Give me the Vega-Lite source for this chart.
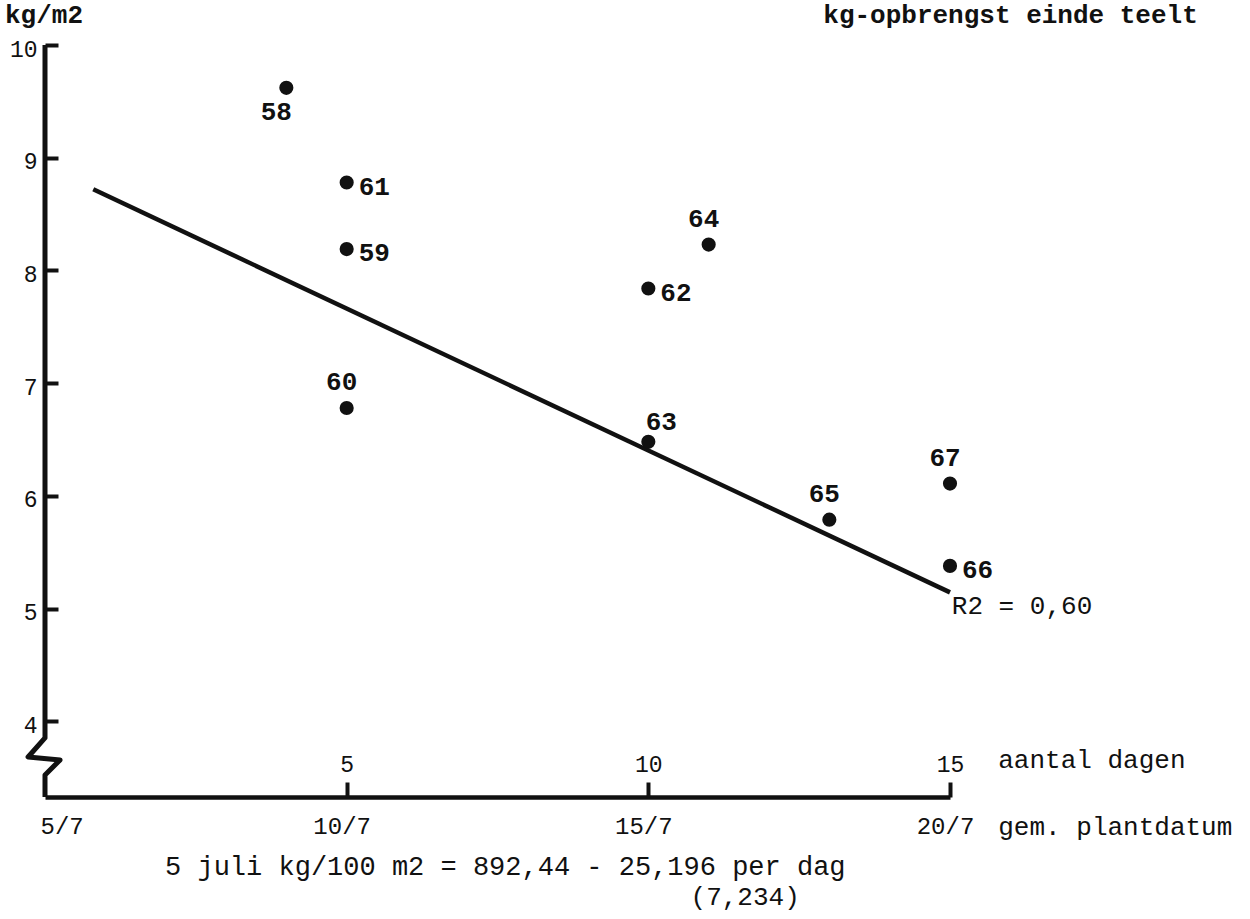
{
  "$schema": "https://vega.github.io/schema/vega-lite/v6.json",
  "width": 905,
  "height": 752,
  "autosize": {"type": "none"},
  "padding": {"left": 45, "top": 45, "right": 300, "bottom": 122},
  "background": "white",
  "config": {
    "view": {"stroke": null},
    "font": "Liberation Mono",
    "axis": {"grid": false, "labelColor": "#111", "tickColor": "#111", "domainColor": "#111", "labelFont": "Liberation Mono"}
  },
  "datasets": {
    "punten": [
      {"dag": 4, "kg": 9.62, "jaar": "58"},
      {"dag": 5, "kg": 8.19, "jaar": "59"},
      {"dag": 5, "kg": 6.78, "jaar": "60"},
      {"dag": 5, "kg": 8.78, "jaar": "61"},
      {"dag": 10, "kg": 7.84, "jaar": "62"},
      {"dag": 10, "kg": 6.48, "jaar": "63"},
      {"dag": 11, "kg": 8.23, "jaar": "64"},
      {"dag": 13, "kg": 5.79, "jaar": "65"},
      {"dag": 15, "kg": 5.38, "jaar": "66"},
      {"dag": 15, "kg": 6.11, "jaar": "67"}
    ],
    "regressie": [
      {"dag": 0.8, "kg": 8.72},
      {"dag": 15, "kg": 5.145}
    ],
    "yas": [
      {"dag": 0, "kg": 10},
      {"dag": 0, "kg": 3.854},
      {"dag": -0.28, "kg": 3.685},
      {"dag": 0.25, "kg": 3.659},
      {"dag": 0, "kg": 3.525},
      {"dag": 0, "kg": 3.33}
    ],
    "anno": [{}]
  },
  "layer": [
    {
      "data": {"name": "yas"},
      "mark": {"type": "line", "color": "#111", "strokeWidth": 5, "strokeJoin": "round", "strokeCap": "butt"},
      "encoding": {
        "x": {
          "field": "dag", "type": "quantitative",
          "scale": {"domain": [0, 15], "nice": false, "zero": false},
          "axis": {
            "orient": "bottom", "title": null, "values": [0, 5, 10, 15],
            "labelExpr": "(datum.value + 5) + '/7'",
            "ticks": false, "domain": true, "domainWidth": 4.5,
            "labelFontSize": 24, "labelPadding": 17, "labelFlush": false,
            "labelAlign": {"condition": {"test": "datum.value === 0", "value": "left"}, "value": "center"},
            "labelOffset": -5
          }
        },
        "y": {
          "field": "kg", "type": "quantitative",
          "scale": {"domain": [3.33, 10], "nice": false, "zero": false},
          "axis": {
            "orient": "left", "title": null, "values": [4, 5, 6, 7, 8, 9, 10],
            "domain": false, "ticks": false,
            "labelFontSize": 23, "labelPadding": 8, "labelOffset": 4
          }
        },
        "order": {"value": null}
      }
    },
    {
      "data": {"name": "regressie"},
      "mark": {"type": "line", "color": "#111", "strokeWidth": 4.5, "strokeCap": "butt"},
      "encoding": {
        "x": {
          "field": "dag", "type": "quantitative",
          "axis": {
            "orient": "top", "offset": -752, "title": null, "values": [5, 10, 15],
            "domain": false, "ticks": true, "tickSize": 15, "tickWidth": 4, "labelFlush": false,
            "labelFontSize": 23, "labelPadding": 6
          }
        },
        "y": {
          "field": "kg", "type": "quantitative",
          "axis": {
            "orient": "right", "offset": -905, "title": null, "values": [4, 5, 6, 7, 8, 9, 10],
            "domain": false, "labels": false, "ticks": true, "tickSize": 13, "tickWidth": 4
          }
        }
      }
    },
    {
      "data": {"name": "punten"},
      "mark": {"type": "circle", "color": "#111", "size": 200, "opacity": 1},
      "encoding": {
        "x": {"field": "dag", "type": "quantitative", "axis": null},
        "y": {"field": "kg", "type": "quantitative", "axis": null}
      }
    },
    {
      "data": {"name": "punten"},
      "transform": [{"filter": {"field": "jaar", "oneOf": ["59", "61", "62", "66"]}}],
      "mark": {"type": "text", "color": "#111", "fontSize": 26, "fontWeight": "bold", "align": "left", "baseline": "middle", "dx": 12, "dy": 4},
      "encoding": {
        "x": {"field": "dag", "type": "quantitative", "axis": null},
        "y": {"field": "kg", "type": "quantitative", "axis": null},
        "text": {"field": "jaar"}
      }
    },
    {
      "data": {"name": "punten"},
      "transform": [{"filter": {"field": "jaar", "oneOf": ["60", "64", "65", "67"]}}],
      "mark": {"type": "text", "color": "#111", "fontSize": 26, "fontWeight": "bold", "align": "center", "baseline": "middle", "dx": -5, "dy": -26},
      "encoding": {
        "x": {"field": "dag", "type": "quantitative", "axis": null},
        "y": {"field": "kg", "type": "quantitative", "axis": null},
        "text": {"field": "jaar"}
      }
    },
    {
      "data": {"name": "punten"},
      "transform": [{"filter": {"field": "jaar", "oneOf": ["63"]}}],
      "mark": {"type": "text", "color": "#111", "fontSize": 26, "fontWeight": "bold", "align": "center", "baseline": "middle", "dx": 13, "dy": -20},
      "encoding": {
        "x": {"field": "dag", "type": "quantitative", "axis": null},
        "y": {"field": "kg", "type": "quantitative", "axis": null},
        "text": {"field": "jaar"}
      }
    },
    {
      "data": {"name": "punten"},
      "transform": [{"filter": {"field": "jaar", "oneOf": ["58"]}}],
      "mark": {"type": "text", "color": "#111", "fontSize": 26, "fontWeight": "bold", "align": "center", "baseline": "middle", "dx": -10, "dy": 24},
      "encoding": {
        "x": {"field": "dag", "type": "quantitative", "axis": null},
        "y": {"field": "kg", "type": "quantitative", "axis": null},
        "text": {"field": "jaar"}
      }
    },
    {
      "data": {"name": "anno"},
      "mark": {"type": "text", "text": "kg/m2", "color": "#111", "fontSize": 26, "fontWeight": "bold", "align": "left", "baseline": "alphabetic"},
      "encoding": {
        "x": {"datum": -0.663, "type": "quantitative", "axis": null},
        "y": {"datum": 10.195, "type": "quantitative", "axis": null}
      }
    },
    {
      "data": {"name": "anno"},
      "mark": {"type": "text", "text": "kg-opbrengst einde teelt", "color": "#111", "fontSize": 26, "fontWeight": "bold", "align": "left", "baseline": "alphabetic"},
      "encoding": {
        "x": {"datum": 12.9, "type": "quantitative", "axis": null},
        "y": {"datum": 10.195, "type": "quantitative", "axis": null}
      }
    },
    {
      "data": {"name": "anno"},
      "mark": {"type": "text", "text": "aantal dagen", "color": "#111", "fontSize": 26, "align": "left", "baseline": "alphabetic"},
      "encoding": {
        "x": {"datum": 15.8, "type": "quantitative", "axis": null},
        "y": {"datum": 3.587, "type": "quantitative", "axis": null}
      }
    },
    {
      "data": {"name": "anno"},
      "mark": {"type": "text", "text": "gem. plantdatum", "color": "#111", "fontSize": 26, "align": "left", "baseline": "alphabetic"},
      "encoding": {
        "x": {"datum": 15.8, "type": "quantitative", "axis": null},
        "y": {"datum": 2.993, "type": "quantitative", "axis": null}
      }
    },
    {
      "data": {"name": "anno"},
      "mark": {"type": "text", "text": "5 juli kg/100 m2 = 892,44 - 25,196 per dag", "color": "#111", "fontSize": 27, "align": "left", "baseline": "alphabetic"},
      "encoding": {
        "x": {"datum": 1.99, "type": "quantitative", "axis": null},
        "y": {"datum": 2.638, "type": "quantitative", "axis": null}
      }
    },
    {
      "data": {"name": "anno"},
      "mark": {"type": "text", "text": "(7,234)", "color": "#111", "fontSize": 26, "align": "left", "baseline": "alphabetic"},
      "encoding": {
        "x": {"datum": 10.7, "type": "quantitative", "axis": null},
        "y": {"datum": 2.372, "type": "quantitative", "axis": null}
      }
    },
    {
      "data": {"name": "anno"},
      "mark": {"type": "text", "text": "R2 = 0,60", "color": "#111", "fontSize": 26, "align": "left", "baseline": "alphabetic"},
      "encoding": {
        "x": {"datum": 15.03, "type": "quantitative", "axis": null},
        "y": {"datum": 4.953, "type": "quantitative", "axis": null}
      }
    }
  ]
}
